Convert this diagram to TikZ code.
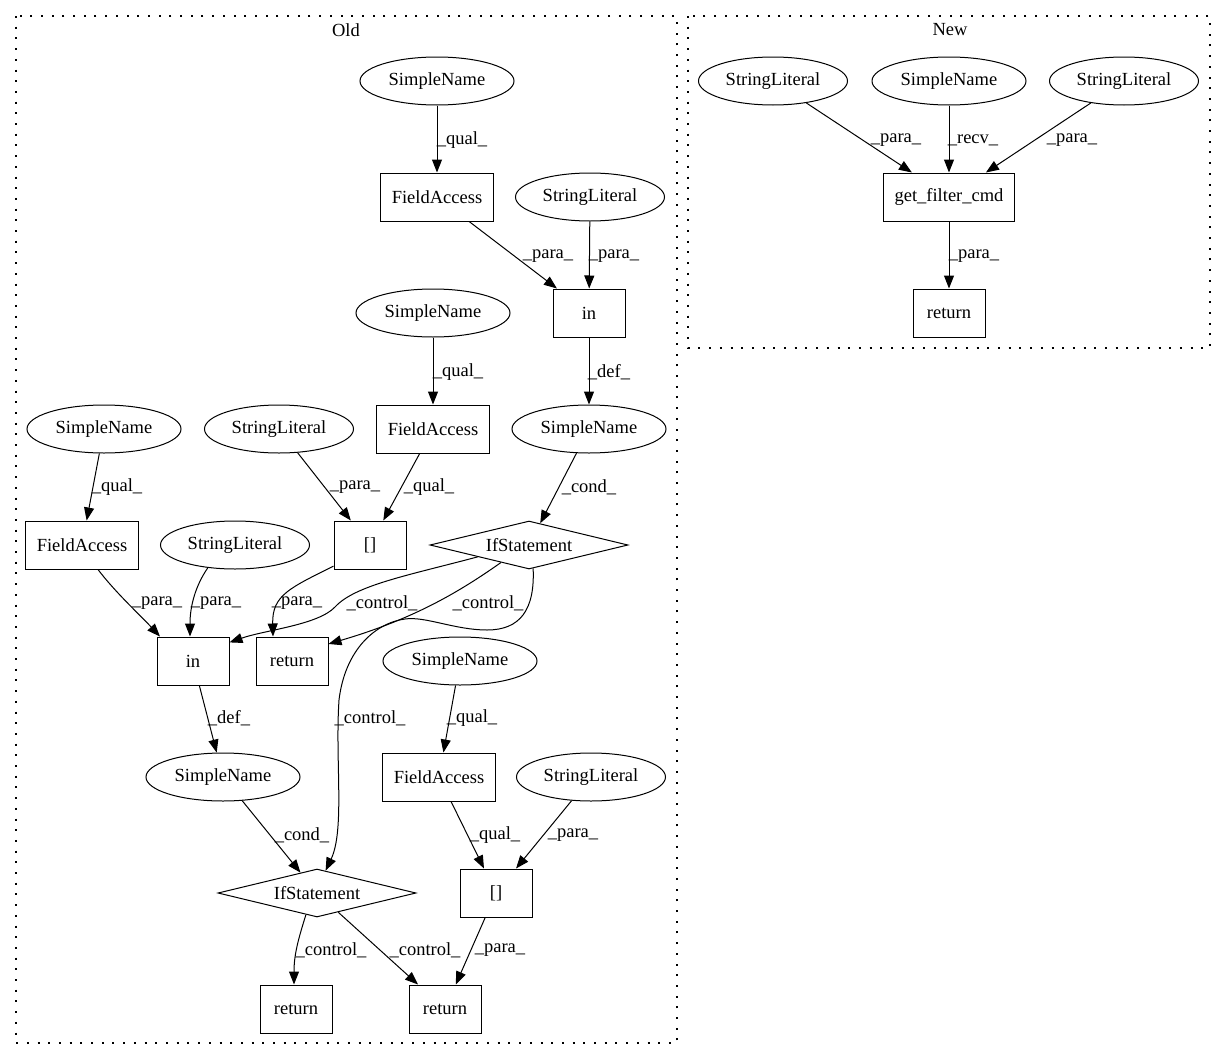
\documentclass[tikz,border=0pt]{standalone}
\usepackage{fontspec}
\setmainfont{Liberation Serif}
\usetikzlibrary{arrows.meta,shapes.geometric}

\begin{document}
\begin{tikzpicture}[x=1pt,y=-1pt,
  font=\fontsize{18.5pt}{22pt}\selectfont,
  line width=1pt,
  sname/.style={draw, ellipse, minimum width=154pt, minimum height=48pt, inner sep=0pt},
  slit/.style={draw, ellipse, minimum width=149pt, minimum height=48pt, inner sep=0pt},
  box/.style={draw, rectangle, minimum width=72pt, minimum height=48pt, inner xsep=11pt, inner ysep=0pt},
  cond/.style={draw, diamond, aspect=4, minimum width=198pt, minimum height=48pt, inner sep=0pt},
  edge/.style={-{Triangle[length=13pt,width=10pt]}},
  lbl/.style={inner sep=0pt},
  cluster/.style={dash pattern=on 2pt off 8.7pt, line width=1.3pt}]
\useasboundingbox (0,0) rectangle (1227,1060);

% clusters
\draw[cluster] (16,16) rectangle (677,1043);
\node[lbl] (old) at (346,30) {Old};
\draw[cluster] (688,16) rectangle (1210,348);
\node[lbl] (new) at (950,30) {New};

% Old
\node[sname] (sn1) at (437,81) {SimpleName};
\node[box] (fa1) at (437,197) {FieldAccess};
\node[slit] (sl1) at (590,197) {StringLiteral};
\node[box] (in1) at (589,313) {in};
\node[sname] (sn2) at (433,313) {SimpleName};
\node[box] (fa2) at (433,429) {FieldAccess};
\node[sname] (sn3) at (589,429) {SimpleName};
\node[sname] (sn4) at (104,429) {SimpleName};
\node[slit] (sl2) at (279,429) {StringLiteral};
\node[box] (fa3) at (82,545) {FieldAccess};
\node[slit] (sl3) at (235,545) {StringLiteral};
\node[box] (br1) at (370,545) {[]};
\node[cond] (if1) at (529,545) {IfStatement};
\node[box] (in2) at (193,661) {in};
\node[box] (ret1) at (292,661) {return};
\node[sname] (sn5) at (460,661) {SimpleName};
\node[sname] (sn6) at (223,777) {SimpleName};
\node[box] (fa4) at (439,777) {FieldAccess};
\node[slit] (sl4) at (591,777) {StringLiteral};
\node[cond] (if2) at (317,893) {IfStatement};
\node[box] (br2) at (496,893) {[]};
\node[box] (ret2) at (296,1009) {return};
\node[box] (ret3) at (445,1009) {return};

\draw[edge] (sn1) -- (fa1) node[lbl] at (462,140) {\_qual\_};
\draw[edge] (fa1) -- (in1) node[lbl] at (548,256) {\_para\_};
\draw[edge] (sl1) -- (in1) node[lbl] at (614,256) {\_para\_};
\draw[edge] (in1) -- (sn3) node[lbl] at (609,372) {\_def\_};
\draw[edge] (sn2) -- (fa2) node[lbl] at (458,372) {\_qual\_};
\draw[edge] (sn4) -- (fa3) node[lbl] at (117,487) {\_qual\_};
\draw[edge] (sl2) -- (br1) node[lbl] at (355,487) {\_para\_};
\draw[edge] (fa2) -- (br1) node[lbl] at (429,487) {\_qual\_};
\draw[edge] (sn3) -- (if1) node[lbl] at (589,487) {\_cond\_};
\draw[edge] ([xshift=16pt]fa3.south) .. controls (115,592) and (140,615) .. ([xshift=-33pt]in2.north)
  node[lbl] at (157,603) {\_para\_};
\draw[edge] (sl3.220) .. controls (196,585) and (190,605) .. ([xshift=-3pt]in2.north)
  node[lbl] at (216,603) {\_para\_};
\draw[edge] (br1.210) .. controls (290,588) and (272,595) .. ([xshift=-19pt]ret1.north)
  node[lbl] at (297,603) {\_para\_};
\draw[edge] (if1.193) .. controls (410,575) and (355,585) .. (335,607) .. controls (318,625) and (265,630) .. (in2.27)
  node[lbl] at (382,603) {\_control\_};
\draw[edge] (if1.212) .. controls (455,595) and (410,620) .. (ret1.25)
  node[lbl] at (488,603) {\_control\_};
\draw[edge] (if1.-80) .. controls (535,610) and (520,630) .. (487,630) .. controls (455,630) and (425,616) .. (405,619)
  .. controls (375,623) and (345,650) .. (339,700) .. controls (335,760) and (345,830) .. (if2.69)
  node[lbl] at (370,718) {\_control\_};
\draw[edge] (in2) -- (sn6) node[lbl] at (229,718) {\_def\_};
\draw[edge] (sn5) -- (fa4) node[lbl] at (472,718) {\_qual\_};
\draw[edge] (sn6) -- (if2) node[lbl] at (302,835) {\_cond\_};
\draw[edge] (fa4) -- (br2) node[lbl] at (495,835) {\_qual\_};
\draw[edge] (sl4) -- (br2) node[lbl] at (573,835) {\_para\_};
\draw[edge] (if2.-117) .. controls (298,940) and (294,955) .. ([xshift=-2pt]ret2.north)
  node[lbl] at (331,950) {\_control\_};
\draw[edge] (if2) -- (ret3) node[lbl] at (425,950) {\_control\_};
\draw[edge] (br2) -- (ret3) node[lbl] at (500,950) {\_para\_};

% New
\node[slit] (nsl1) at (773,81) {StringLiteral};
\node[sname] (nsn) at (949,81) {SimpleName};
\node[slit] (nsl2) at (1124,81) {StringLiteral};
\node[box] (gfc) at (949,197) {get\_filter\_cmd};
\node[box] (nret) at (949,313) {return};

\draw[edge] (nsl1) -- (gfc) node[lbl] at (896,140) {\_para\_};
\draw[edge] (nsn) -- (gfc) node[lbl] at (973,140) {\_recv\_};
\draw[edge] (nsl2) -- (gfc) node[lbl] at (1072,140) {\_para\_};
\draw[edge] (gfc) -- (nret) node[lbl] at (974,256) {\_para\_};
\end{tikzpicture}
\end{document}
